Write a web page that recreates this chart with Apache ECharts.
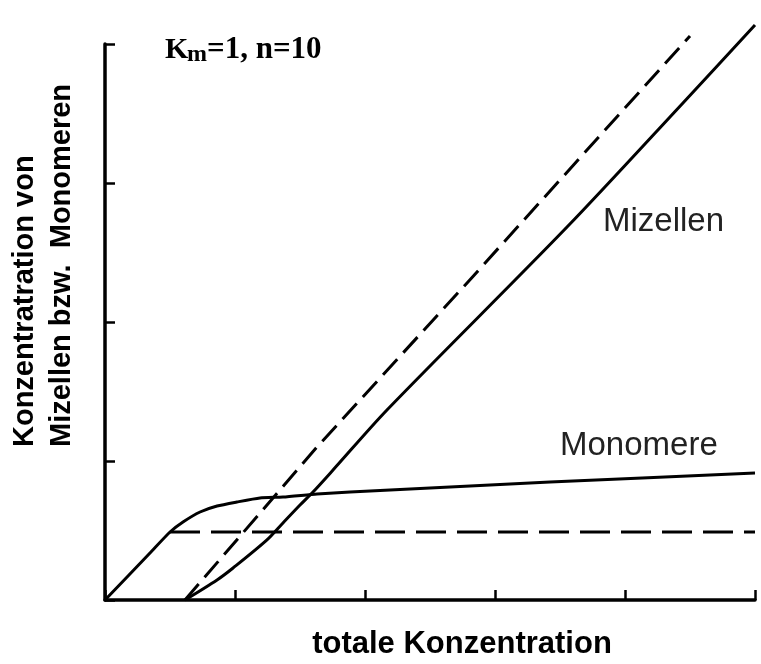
<!DOCTYPE html>
<html>
<head>
<meta charset="utf-8">
<script src="https://cdn.jsdelivr.net/npm/echarts@6/dist/echarts.min.js"></script>
<style>html,body{margin:0;padding:0;background:#fff;}#c{width:761px;height:664px;}</style>
</head>
<body>
<div id="c"></div>
<script>
// Data (x: totale Konzentration, y: Konzentration)
const monomerSolid = [[0,0],[0.346,0.338],[0.5,0.489],[0.6,0.561],[0.731,0.633],[0.862,0.676],[1.015,0.705],[1.192,0.734],[1.369,0.741],[1.631,0.763],[1.885,0.777],[2.654,0.813],[3.423,0.849],[5.0,0.914]];
const monomerDashed = [[0.5,0.489],[5.0,0.489]];
const micelleSolid = [[0.615,0],[0.862,0.144],[0.985,0.230],[1.246,0.432],[1.369,0.554],[1.5,0.683],[1.6,0.777],[1.754,0.935],[2.169,1.367],[3.554,2.683],[4.446,3.576],[5.0,4.137]];
const micelleDashed = [[0.615,0],[1.631,1.101],[2.785,2.281],[4.5,4.058]];
const titleText = ['K', 'm', '=1, n=10'];
const yTitle = ['Konzentratration von', 'Mizellen bzw.  Monomeren'];
const xTitle = 'totale Konzentration';
const curveLabels = ['Mizellen', 'Monomere'];

const chart = echarts.init(document.getElementById('c'), null, {renderer: 'canvas'});
const axisCommon = {
  type: 'value',
  interval: 1,
  axisLine: {show: true, lineStyle: {color: '#000', width: 3.5}},
  axisTick: {show: true, inside: true, length: 10, lineStyle: {color: '#000', width: 2.5}},
  axisLabel: {show: false},
  splitLine: {show: false}
};
const lineSeries = (data, dashed, smooth, dash) => ({
  type: 'line', data: data, symbol: 'none', clip: false, silent: true,
  smooth: smooth,
  lineStyle: {color: '#000', width: 3, type: dashed ? dash : 'solid', cap: 'butt', join: 'round'}
});
const sans = 'Liberation Sans, Arial, sans-serif';
const serif = 'Liberation Serif, Times New Roman, serif';
chart.setOption({
  backgroundColor: '#fff',
  animation: false,
  grid: {left: 105, right: 6, top: 44, bottom: 64, containLabel: false},
  xAxis: Object.assign({}, axisCommon, {min: 0, max: 5}),
  yAxis: Object.assign({}, axisCommon, {min: 0, max: 4}),
  series: [
    lineSeries(monomerSolid, false, 0.2),
    lineSeries(monomerDashed, true, false, [30, 11]),
    lineSeries(micelleSolid, false, 0.3),
    lineSeries(micelleDashed, true, false, [21, 9])
  ],
  graphic: [
    {type: 'text', x: 165, y: 50, style: {text: titleText[0], font: 'bold 30px ' + serif, fill: '#000', verticalAlign: 'middle', align: 'left'}},
    {type: 'text', x: 187, y: 55, style: {text: titleText[1], font: 'bold 24px ' + serif, fill: '#000', verticalAlign: 'middle', align: 'left'}},
    {type: 'text', x: 207, y: 50, style: {text: titleText[2], font: 'bold 31px ' + serif, fill: '#000', verticalAlign: 'middle', align: 'left'}},
    {type: 'text', x: 603, y: 221.5, style: {text: curveLabels[0], font: '33px ' + sans, fill: '#222', verticalAlign: 'middle', align: 'left'}},
    {type: 'text', x: 560, y: 445.5, style: {text: curveLabels[1], font: '33px ' + sans, fill: '#222', verticalAlign: 'middle', align: 'left'}},
    {type: 'text', x: 462, y: 644, style: {text: xTitle, font: 'bold 31px ' + sans, fill: '#000', verticalAlign: 'middle', align: 'center'}},
    {type: 'text', x: 25, y: 447, rotation: Math.PI / 2, style: {text: yTitle[0], font: 'bold 29px ' + sans, fill: '#000', verticalAlign: 'middle', align: 'left'}},
    {type: 'text', x: 62, y: 447, rotation: Math.PI / 2, style: {text: yTitle[1], font: 'bold 29px ' + sans, fill: '#000', verticalAlign: 'middle', align: 'left'}}
  ]
});
</script>
</body>
</html>
